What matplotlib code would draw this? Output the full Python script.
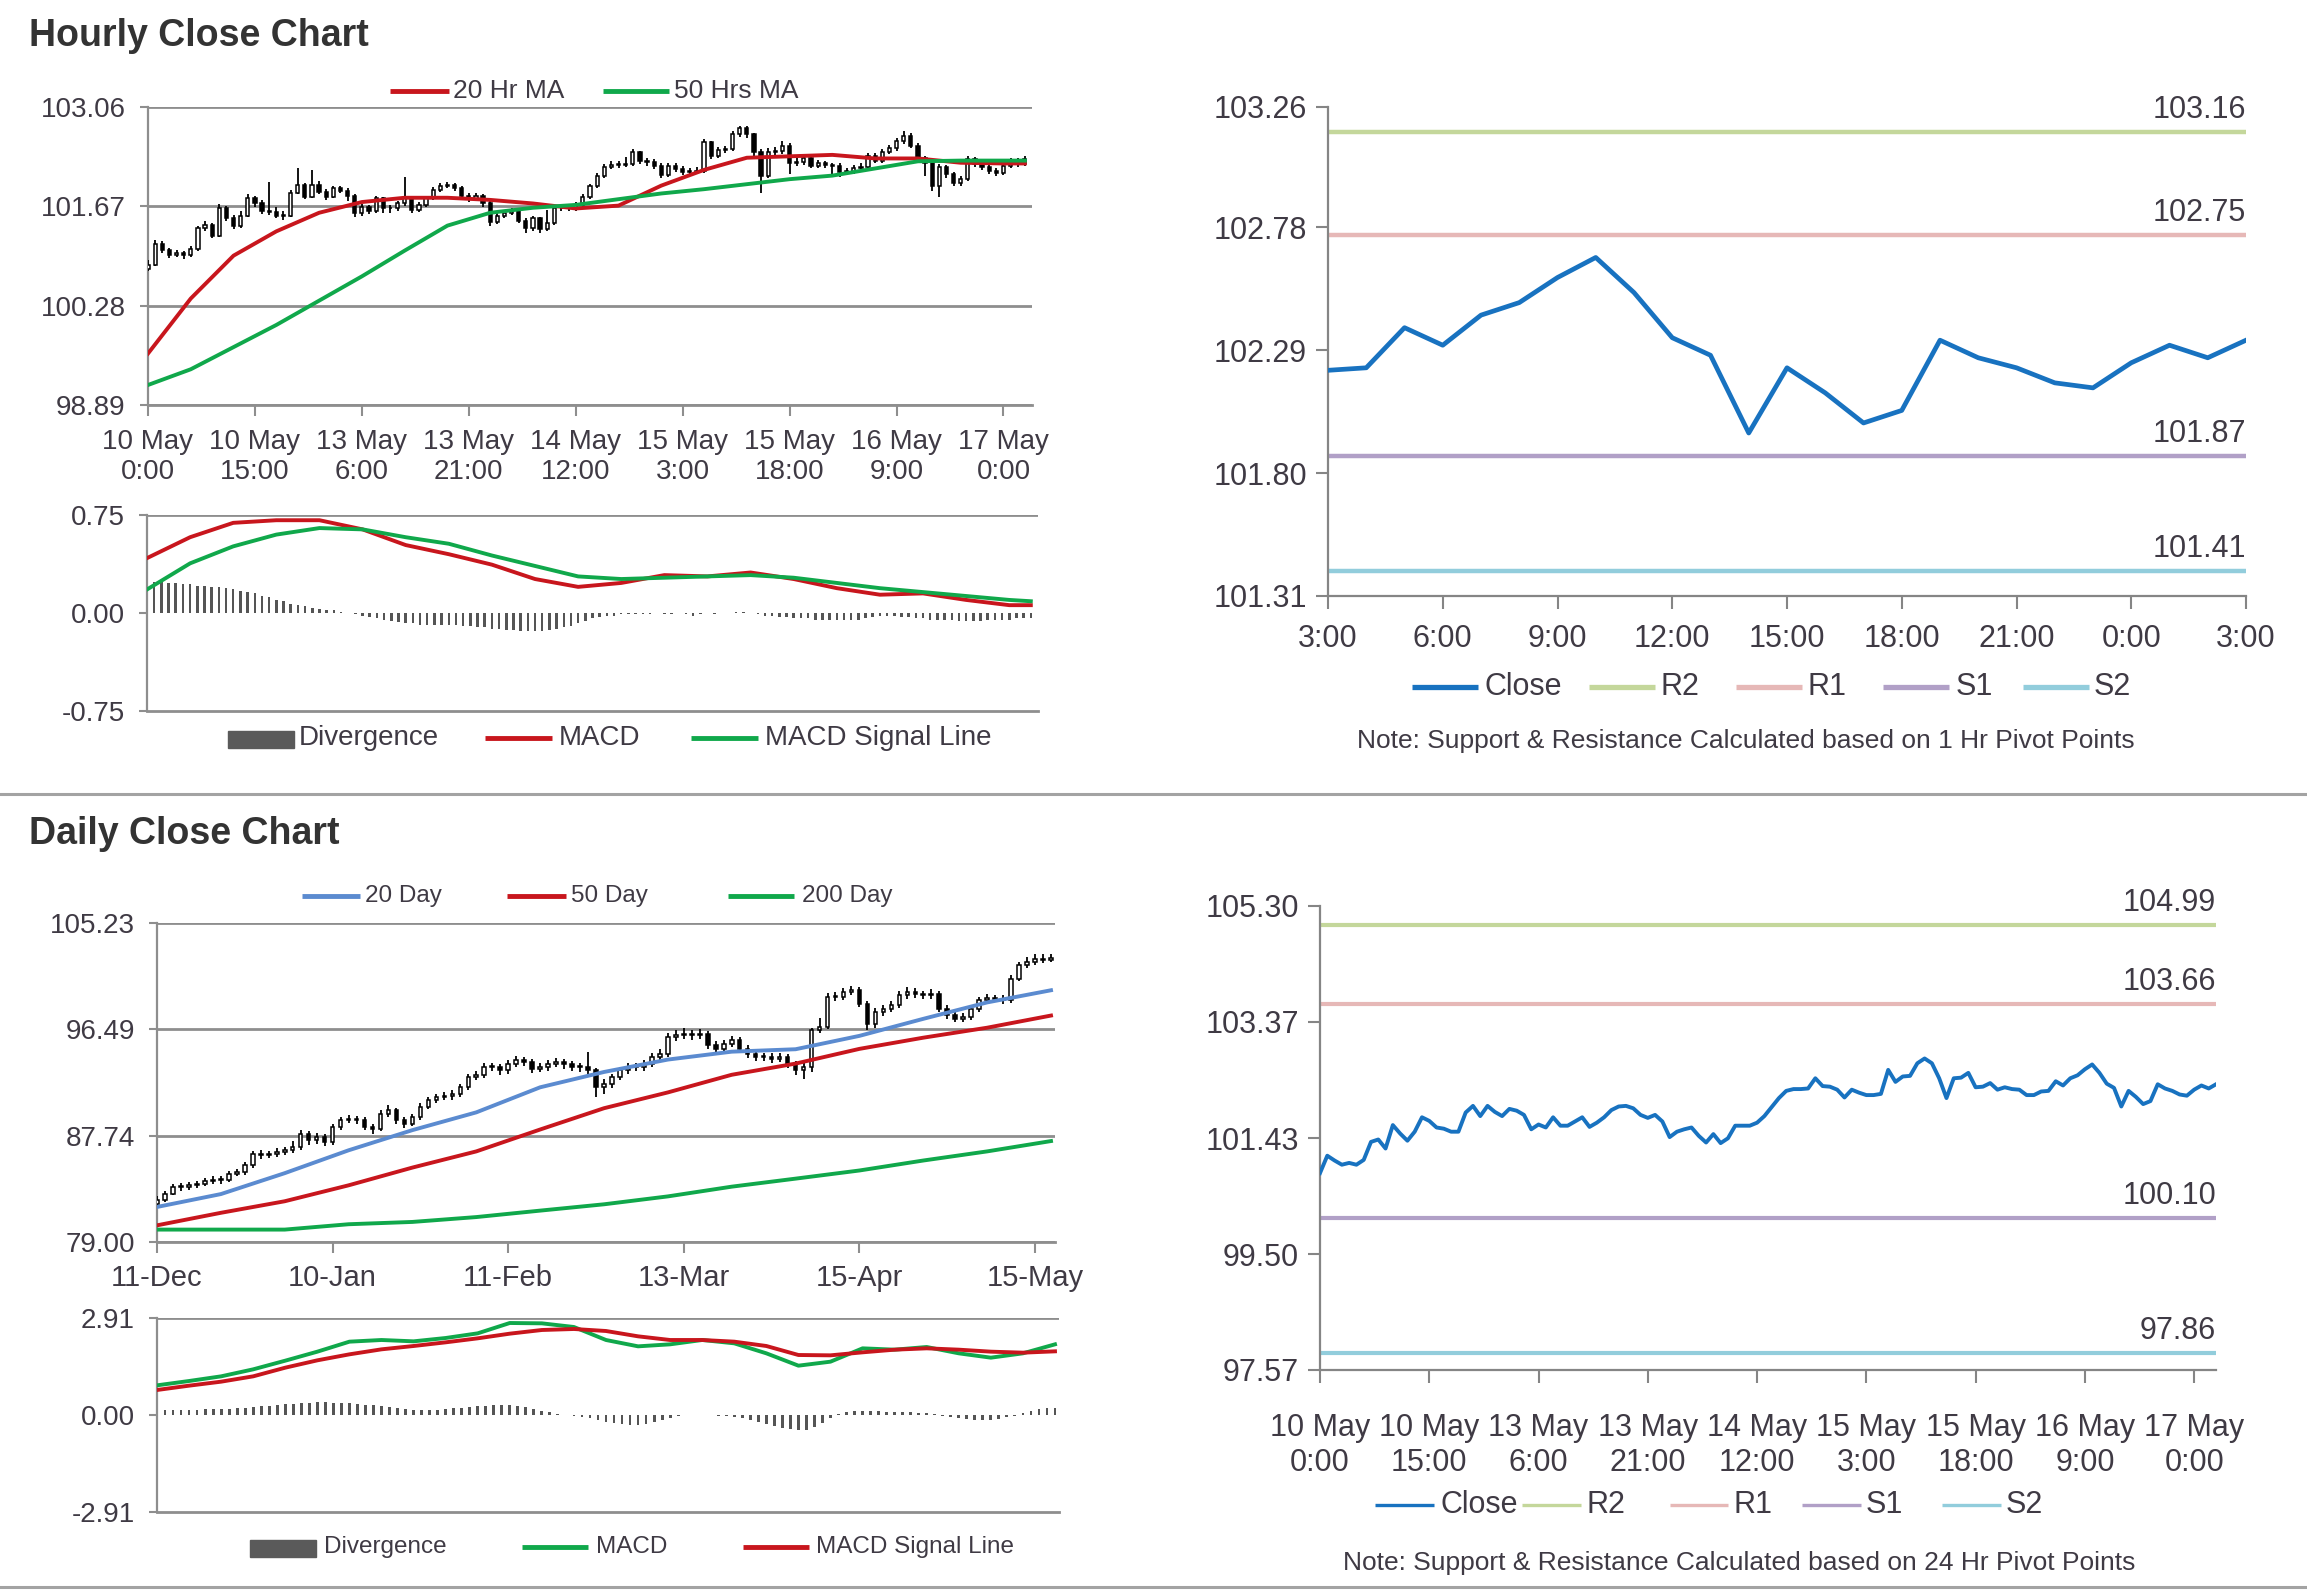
import numpy as np
import matplotlib.pyplot as plt
from matplotlib.lines import Line2D
from matplotlib.patches import Rectangle

plt.rcParams['font.family'] = ['Liberation Sans', 'DejaVu Sans']

# ---------------- hourly data (10 May 0:00 -> 17 May 3:00) ----------------
hr_first_open = 100.80
hr_close = [100.85, 101.14, 101.06, 100.99, 101.02, 100.99, 101.07, 101.37, 101.41, 101.26,
            101.65, 101.51, 101.39, 101.54, 101.78, 101.72, 101.61, 101.59, 101.54, 101.54,
            101.86, 101.97, 101.80, 101.97, 101.87, 101.80, 101.92, 101.89, 101.82, 101.58,
            101.66, 101.61, 101.78, 101.64, 101.64, 101.71, 101.78, 101.62, 101.69, 101.78,
            101.90, 101.96, 101.97, 101.93, 101.82, 101.77, 101.82, 101.71, 101.45, 101.54,
            101.58, 101.61, 101.47, 101.36, 101.50, 101.35, 101.43, 101.64, 101.64, 101.64,
            101.69, 101.80, 101.95, 102.10, 102.22, 102.25, 102.25, 102.26, 102.43, 102.30,
            102.29, 102.24, 102.11, 102.24, 102.19, 102.15, 102.15, 102.17, 102.57, 102.37,
            102.46, 102.47, 102.68, 102.76, 102.68, 102.43, 102.10, 102.43, 102.44, 102.52,
            102.28, 102.29, 102.35, 102.24, 102.28, 102.25, 102.24, 102.15, 102.15, 102.21,
            102.22, 102.38, 102.31, 102.43, 102.48, 102.58, 102.66, 102.52, 102.34, 102.27,
            101.96, 102.22, 102.12, 102.00, 102.05, 102.33, 102.26, 102.22, 102.16, 102.14,
            102.24, 102.31, 102.26, 102.33]
hr_high = [100.92, 101.20, 101.18, 101.09, 101.06, 101.05, 101.12, 101.40, 101.46, 101.44,
           101.70, 101.68, 101.55, 101.60, 101.84, 101.82, 101.76, 102.01, 101.66, 101.60,
           101.90, 102.21, 102.00, 102.18, 102.02, 101.91, 101.96, 101.95, 101.92, 101.84,
           101.70, 101.69, 101.82, 101.80, 101.69, 101.74, 102.08, 101.80, 101.73, 101.82,
           101.94, 102.00, 102.01, 101.99, 101.95, 101.85, 101.86, 101.84, 101.74, 101.58,
           101.62, 101.64, 101.63, 101.50, 101.53, 101.52, 101.62, 101.68, 101.68, 101.69,
           101.73, 101.84, 101.98, 102.14, 102.26, 102.30, 102.30, 102.36, 102.47, 102.45,
           102.34, 102.33, 102.27, 102.28, 102.27, 102.23, 102.20, 102.22, 102.61, 102.59,
           102.50, 102.52, 102.72, 102.80, 102.79, 102.70, 102.47, 102.48, 102.50, 102.58,
           102.55, 102.34, 102.39, 102.37, 102.32, 102.31, 102.28, 102.27, 102.20, 102.25,
           102.27, 102.42, 102.41, 102.47, 102.53, 102.62, 102.72, 102.69, 102.55, 102.38,
           102.30, 102.26, 102.25, 102.15, 102.09, 102.37, 102.36, 102.30, 102.25, 102.20,
           102.28, 102.35, 102.34, 102.38]
hr_low = [100.76, 100.83, 101.02, 100.95, 100.96, 100.94, 100.96, 101.05, 101.33, 101.22,
          101.24, 101.47, 101.35, 101.36, 101.52, 101.66, 101.56, 101.55, 101.50, 101.48,
          101.52, 101.84, 101.77, 101.78, 101.84, 101.76, 101.78, 101.85, 101.75, 101.52,
          101.54, 101.56, 101.58, 101.58, 101.58, 101.60, 101.68, 101.58, 101.59, 101.66,
          101.76, 101.87, 101.92, 101.89, 101.79, 101.73, 101.74, 101.66, 101.40, 101.42,
          101.50, 101.55, 101.43, 101.30, 101.33, 101.30, 101.32, 101.41, 101.60, 101.60,
          101.61, 101.66, 101.77, 101.92, 102.07, 102.19, 102.21, 102.22, 102.23, 102.26,
          102.24, 102.19, 102.06, 102.08, 102.15, 102.11, 102.10, 102.12, 102.14, 102.33,
          102.34, 102.42, 102.44, 102.64, 102.62, 102.38, 101.85, 102.07, 102.38, 102.40,
          102.12, 102.24, 102.25, 102.20, 102.20, 102.21, 102.08, 102.08, 102.11, 102.12,
          102.18, 102.19, 102.27, 102.28, 102.40, 102.45, 102.54, 102.48, 102.30, 102.10,
          101.88, 101.80, 102.06, 101.95, 101.96, 102.02, 102.22, 102.18, 102.12, 102.10,
          102.11, 102.20, 102.22, 102.23]

hr_ma_hours = [0, 6, 12, 18, 24, 30, 36, 42, 48, 54, 60, 66, 72, 78, 84, 90, 96, 102, 108, 114, 120, 123]
hr_ma20 = [99.61, 100.38, 100.98, 101.32, 101.58, 101.73, 101.79, 101.79, 101.76, 101.71, 101.64,
           101.68, 101.96, 102.18, 102.35, 102.37, 102.39, 102.34, 102.34, 102.28, 102.27, 102.27]
hr_ma50 = [99.17, 99.39, 99.70, 100.01, 100.35, 100.69, 101.05, 101.40, 101.58, 101.65, 101.69,
           101.77, 101.85, 101.91, 101.98, 102.05, 102.10, 102.20, 102.30, 102.31, 102.31, 102.31]
hr_macd = [0.42, 0.58, 0.69, 0.71, 0.71, 0.64, 0.52, 0.45, 0.37, 0.26, 0.20,
           0.23, 0.29, 0.28, 0.31, 0.26, 0.19, 0.14, 0.15, 0.10, 0.06, 0.06]
hr_signal = [0.18, 0.38, 0.51, 0.60, 0.65, 0.64, 0.58, 0.53, 0.44, 0.36, 0.28,
             0.26, 0.27, 0.28, 0.29, 0.27, 0.23, 0.19, 0.16, 0.13, 0.10, 0.09]
hr_div = [0.25, 0.24, 0.24, 0.23, 0.23, 0.22, 0.22, 0.21, 0.21, 0.20, 0.20, 0.19,
          0.18, 0.17, 0.16, 0.15, 0.13, 0.12, 0.10, 0.09, 0.07, 0.06, 0.05, 0.04,
          0.03, 0.02, 0.02, 0.01, 0.00, -0.01, -0.02, -0.03, -0.04, -0.05, -0.06, -0.07,
          -0.08, -0.08, -0.09, -0.09, -0.09, -0.09, -0.09, -0.09, -0.10, -0.10, -0.11, -0.11,
          -0.12, -0.12, -0.13, -0.13, -0.14, -0.14, -0.14, -0.14, -0.13, -0.12, -0.11, -0.10,
          -0.08, -0.06, -0.04, -0.03, -0.02, -0.02, -0.01, -0.01, -0.01, -0.01, -0.01, 0.00,
          -0.01, -0.01, 0.00, -0.01, -0.02, -0.01, 0.00, -0.01, 0.00, 0.00, 0.01, 0.01,
          0.00, -0.01, -0.02, -0.02, -0.03, -0.03, -0.04, -0.04, -0.04, -0.05, -0.05, -0.05,
          -0.05, -0.05, -0.05, -0.05, -0.04, -0.03, -0.02, -0.02, -0.02, -0.03, -0.03, -0.04,
          -0.04, -0.05, -0.05, -0.05, -0.05, -0.06, -0.06, -0.06, -0.06, -0.05, -0.05, -0.05,
          -0.05, -0.04, -0.04, -0.04]
hr_tick_labels = ['10 May\n0:00', '10 May\n15:00', '13 May\n6:00', '13 May\n21:00', '14 May\n12:00',
                  '15 May\n3:00', '15 May\n18:00', '16 May\n9:00', '17 May\n0:00']
last24_labels = ['3:00', '6:00', '9:00', '12:00', '15:00', '18:00', '21:00', '0:00', '3:00']

pivot_names = ['R2', 'R1', 'S1', 'S2']
pivot_colors = ['#c4d79b', '#e6b8b7', '#b1a0c7', '#92cddc']
hr_pivots = [103.16, 102.75, 101.87, 101.41]
dy_pivots = [104.99, 103.66, 100.10, 97.86]

# ---------------- daily data (11 Dec -> 17 May) ----------------
dy_first_open = 82.10
dy_close = [82.43, 82.98, 83.53, 83.53, 83.66, 83.80, 84.02, 84.13, 84.07, 84.62,
            84.76, 85.31, 86.27, 86.13, 86.21, 86.40, 86.54, 86.81, 87.91, 87.36,
            87.64, 87.22, 88.46, 89.01, 89.06, 89.01, 88.46, 88.32, 89.56, 89.83,
            89.01, 88.74, 89.28, 90.11, 90.65, 90.93, 90.98, 91.20, 91.75, 92.57,
            92.71, 93.39, 93.39, 93.12, 93.67, 93.94, 93.80, 93.26, 93.39, 93.67,
            93.80, 93.61, 93.39, 93.39, 93.12, 91.75, 92.02, 92.57, 93.12, 93.39,
            93.39, 93.67, 94.21, 94.49, 95.86, 95.99, 96.13, 95.99, 96.13, 95.17,
            94.90, 95.31, 95.58, 94.90, 94.49, 94.21, 94.21, 94.08, 94.21, 93.67,
            93.12, 93.39, 96.41, 96.68, 99.15, 99.15, 99.56, 99.70, 98.60, 96.90,
            97.91, 98.19, 98.46, 99.28, 99.56, 99.37, 99.28, 99.42, 98.19, 97.64,
            97.37, 97.50, 98.19, 98.87, 99.09, 99.01, 98.87, 100.65, 101.75, 102.02,
            102.30, 102.22, 102.36]
dy_high = [82.80, 83.20, 83.75, 83.85, 83.95, 84.05, 84.30, 84.40, 84.40, 84.85,
           85.00, 85.60, 86.50, 86.55, 86.50, 86.70, 86.85, 87.30, 88.20, 88.15,
           87.95, 87.90, 88.70, 89.30, 89.45, 89.40, 89.25, 88.70, 89.85, 90.25,
           90.05, 89.30, 89.55, 90.40, 90.90, 91.20, 91.30, 91.50, 92.00, 92.85,
           93.05, 93.70, 93.75, 93.60, 93.95, 94.30, 94.25, 94.05, 93.75, 94.00,
           94.10, 94.05, 93.90, 93.70, 94.60, 93.30, 92.40, 92.85, 93.40, 93.70,
           93.75, 94.00, 94.50, 94.85, 96.20, 96.40, 96.60, 96.45, 96.50, 96.35,
           95.50, 95.65, 95.95, 95.85, 95.20, 94.80, 94.55, 94.50, 94.55, 94.45,
           93.90, 93.70, 96.60, 97.40, 99.45, 99.55, 99.90, 100.05, 99.95, 98.80,
           98.20, 98.50, 98.80, 99.60, 99.95, 99.85, 99.65, 99.80, 99.60, 98.45,
           97.95, 97.85, 98.50, 99.15, 99.40, 99.35, 99.30, 100.95, 102.05, 102.45,
           102.70, 102.65, 102.70]
dy_low = [81.90, 82.30, 82.85, 83.20, 83.30, 83.45, 83.60, 83.80, 83.75, 83.90,
          84.40, 84.55, 85.10, 85.80, 85.90, 85.95, 86.15, 86.30, 86.60, 87.00,
          87.05, 86.90, 87.00, 88.20, 88.75, 88.70, 88.20, 87.90, 88.10, 89.30,
          88.70, 88.40, 88.50, 89.05, 89.90, 90.40, 90.65, 90.70, 90.95, 91.50,
          92.30, 92.45, 93.05, 92.70, 92.85, 93.40, 93.45, 92.90, 92.95, 93.10,
          93.40, 93.25, 93.05, 93.00, 92.70, 90.90, 91.20, 91.70, 92.30, 92.85,
          93.05, 93.10, 93.40, 93.95, 94.25, 95.55, 95.70, 95.65, 95.70, 94.85,
          94.60, 94.65, 95.05, 94.55, 94.15, 93.90, 93.90, 93.75, 93.80, 93.30,
          92.70, 92.40, 92.95, 96.20, 96.50, 98.85, 98.90, 99.30, 98.30, 96.40,
          96.60, 97.60, 97.90, 98.20, 99.00, 99.05, 98.95, 99.00, 97.90, 97.30,
          97.05, 97.10, 97.25, 97.95, 98.65, 98.70, 98.60, 98.65, 100.45, 101.50,
          101.80, 101.95, 102.00]

dy_ma_days = [0, 8, 16, 24, 32, 40, 48, 56, 64, 72, 80, 88, 96, 104, 112]
dy_ma20 = [81.88, 82.94, 84.66, 86.54, 88.20, 89.66, 91.72, 92.98, 94.00, 94.65, 94.85, 95.95, 97.35, 98.70, 99.70]
dy_ma50 = [80.37, 81.40, 82.35, 83.66, 85.12, 86.45, 88.25, 90.00, 91.30, 92.75, 93.67, 94.88, 95.80, 96.62, 97.62]
dy_ma200 = [80.02, 80.02, 80.02, 80.46, 80.65, 81.05, 81.58, 82.10, 82.75, 83.55, 84.21, 84.88, 85.70, 86.45, 87.30]

dy_macd_days = list(range(0, 113, 4))
dy_macd = [0.89, 1.02, 1.16, 1.37, 1.63, 1.90, 2.20, 2.25, 2.21, 2.31, 2.45, 2.76, 2.75, 2.64, 2.25,
           2.06, 2.12, 2.25, 2.15, 1.85, 1.48, 1.60, 2.00, 1.96, 2.04, 1.85, 1.72, 1.85, 2.12]
dy_signal = [0.75, 0.88, 1.00, 1.16, 1.42, 1.64, 1.82, 1.97, 2.07, 2.18, 2.30, 2.44, 2.55, 2.58, 2.52,
             2.36, 2.25, 2.25, 2.20, 2.07, 1.80, 1.79, 1.88, 1.96, 2.00, 1.96, 1.90, 1.87, 1.91]
dy_div = [0.14, 0.14, 0.15, 0.15, 0.16, 0.16, 0.17, 0.17, 0.18, 0.19,
          0.20, 0.22, 0.24, 0.26, 0.28, 0.30, 0.32, 0.34, 0.36, 0.37,
          0.38, 0.38, 0.37, 0.36, 0.35, 0.33, 0.31, 0.29, 0.27, 0.24,
          0.20, 0.17, 0.15, 0.14, 0.14, 0.15, 0.17, 0.20, 0.22, 0.24,
          0.26, 0.28, 0.30, 0.31, 0.30, 0.27, 0.23, 0.18, 0.12, 0.08,
          0.04, 0.01, -0.02, -0.06, -0.10, -0.15, -0.20, -0.25, -0.28, -0.30,
          -0.30, -0.27, -0.22, -0.15, -0.08, -0.04, -0.01, 0.00, 0.01, 0.00,
          -0.02, -0.04, -0.07, -0.10, -0.15, -0.21, -0.27, -0.33, -0.39, -0.43,
          -0.46, -0.44, -0.36, -0.24, -0.10, 0.03, 0.09, 0.12, 0.13, 0.12,
          0.11, 0.10, 0.09, 0.08, 0.08, 0.07, 0.05, 0.02, -0.02, -0.06,
          -0.10, -0.13, -0.15, -0.16, -0.14, -0.11, -0.07, -0.02, 0.05, 0.12,
          0.17, 0.20, 0.21]
dy_tick_labels = ['11-Dec', '10-Jan', '11-Feb', '13-Mar', '15-Apr', '15-May']

# ---------------- figure ----------------
W, H = 2307, 1592
fig = plt.figure(figsize=(W / 100, H / 100), dpi=100)

TXT = '#3f3a44'
GRID = '#8e8e8e'
RED = '#c8161d'
GREEN = '#10a84b'
BLUE = '#5b8bd0'
CLOSE = '#1872c0'
DIVC = '#555555'


def box(l, t, r, b):
    return fig.add_axes([l / W, 1 - b / H, (r - l) / W, (b - t) / H])


def fig_line(x0, x1, y, color, lw):
    fig.add_artist(Line2D([x0 / W, x1 / W], [1 - y / H, 1 - y / H], color=color, lw=lw,
                          transform=fig.transFigure, solid_capstyle='butt'))


def fig_text(x, y, s, size=16, **kw):
    fig.text(x / W, 1 - y / H, s, fontsize=size, color=TXT, va='center', **kw)


def fig_rect(x0, x1, y, h, color):
    fig.add_artist(Rectangle((x0 / W, 1 - (y + h / 2) / H), (x1 - x0) / W, h / H,
                             color=color, transform=fig.transFigure))


def candles(ax, o, h, l, c, width, tiny):
    o, h, l, c = map(np.asarray, (o, h, l, c))
    x = np.arange(len(c))
    ax.vlines(x, l, h, color='black', lw=1.3, zorder=3)
    up = c >= o
    body = np.maximum(np.abs(c - o), tiny)
    ax.bar(x, body, bottom=np.minimum(o, c), width=width, color=np.where(up, 'white', 'black'),
           edgecolor='black', lw=1.1, zorder=3)


def left_panel(ax, yticks, fs, grid_all=True):
    ax.set_ylim(yticks[0], yticks[-1])
    ax.set_yticks(yticks)
    ax.set_yticklabels(['%.2f' % v for v in yticks])
    for s in ['top', 'right']:
        ax.spines[s].set_visible(False)
    ax.spines['left'].set_color(GRID)
    ax.spines['left'].set_linewidth(1.6)
    ax.spines['bottom'].set_color(GRID)
    ax.spines['bottom'].set_linewidth(2)
    if grid_all:
        ax.yaxis.grid(True, color=GRID, lw=2)
    else:
        ax.axhline(yticks[-1], color=GRID, lw=2, zorder=0)
    ax.set_axisbelow(True)
    ax.tick_params(axis='y', colors=GRID, labelcolor=TXT, labelsize=fs, length=6, width=1.5, pad=10)
    ax.tick_params(axis='x', colors=GRID, labelcolor=TXT, labelsize=fs, length=8, width=1.5,
                   direction='out', pad=9)


def right_panel(ax, yticks, fs):
    ax.set_ylim(yticks[0], yticks[-1])
    ax.set_yticks(yticks)
    ax.set_yticklabels(['%.2f' % v for v in yticks])
    for s in ['top', 'right']:
        ax.spines[s].set_visible(False)
    for s in ['left', 'bottom']:
        ax.spines[s].set_color('#858585')
        ax.spines[s].set_linewidth(1.6)
    ax.tick_params(colors='#858585', labelcolor=TXT, labelsize=fs, length=9, width=1.5, pad=6)


# ======== Hourly candle chart ========
hr_x = np.arange(len(hr_close))
hr_open = [hr_first_open] + hr_close[:-1]
ax1 = box(148, 107, 1032, 405)
left_panel(ax1, [98.89, 100.28, 101.67, 103.06], 20)
ax1.set_xlim(0, 124)
ax1.set_xticks(range(0, 121, 15))
ax1.set_xticklabels(hr_tick_labels, linespacing=1.2)
candles(ax1, hr_open, hr_high, hr_low, hr_close, 0.45, 0.01)
ax1.plot(hr_ma_hours, hr_ma20, color=RED, lw=2.8, zorder=4)
ax1.plot(hr_ma_hours, hr_ma50, color=GREEN, lw=2.8, zorder=4)

fig_line(390, 449, 91, RED, 3.5)
fig_text(453, 91, '20 Hr MA', size=19)
fig_line(603, 669, 91, GREEN, 3.5)
fig_text(674, 91, '50 Hrs MA', size=19)

# hourly MACD
ax2 = box(147, 515, 1038, 711)
left_panel(ax2, [-0.75, 0.00, 0.75], 20, grid_all=False)
ax2.set_xlim(0, 124)
ax2.set_xticks([])
ax2.bar(hr_x, hr_div, width=0.35, color=DIVC, zorder=2)
ax2.plot(hr_ma_hours, hr_macd, color=RED, lw=2.8, zorder=3)
ax2.plot(hr_ma_hours, hr_signal, color=GREEN, lw=2.8, zorder=3)

fig_rect(228, 294, 739, 17, '#5a5a5a')
fig_text(299, 738, 'Divergence', size=20)
fig_line(485, 552, 738, RED, 3.5)
fig_text(559, 738, 'MACD', size=20)
fig_line(691, 758, 738, GREEN, 3.5)
fig_text(765, 738, 'MACD Signal Line', size=20)

# ======== last 24 hours with hourly pivots ========
last24 = hr_close[-25:]
ax3 = box(1328, 107, 2246, 596)
right_panel(ax3, [101.31, 101.80, 102.29, 102.78, 103.26], 22)
ax3.tick_params(axis='x', pad=11)
ax3.set_xlim(0, 24)
ax3.set_xticks(range(0, 25, 3))
ax3.set_xticklabels(last24_labels)
for name, val, col in zip(pivot_names, hr_pivots, pivot_colors):
    ax3.axhline(val, color=col, lw=3.2, zorder=2)
    ax3.annotate('%.2f' % val, (1, val), xycoords=('axes fraction', 'data'), xytext=(0, 5),
                 textcoords='offset points', ha='right', va='bottom', fontsize=22, color=TXT)
ax3.plot(range(25), last24, color=CLOSE, lw=3.4, zorder=3)

leg_y = 687
fig_line(1412, 1478, leg_y, CLOSE, 3.8)
fig_text(1484, leg_y, 'Close', size=22)
for (x0, x1, xt), name, col in zip([(1589, 1655, 1661), (1736, 1802, 1807), (1883, 1949, 1956), (2023, 2089, 2094)],
                                   pivot_names, pivot_colors):
    fig_line(x0, x1, leg_y, col, 3.8)
    fig_text(xt, leg_y, name, size=22)
fig_text(1746, 741, 'Note: Support & Resistance Calculated based on 1 Hr Pivot Points', size=19, ha='center')

fig.add_artist(Line2D([0, 1], [1 - 794 / H] * 2, color='#a3a3a3', lw=2.2, transform=fig.transFigure))

# ======== Daily candle chart ========
dy_x = np.arange(len(dy_close))
dy_open = [dy_first_open] + dy_close[:-1]
ax4 = box(157, 923, 1055, 1242)
left_panel(ax4, [79.00, 87.74, 96.49, 105.23], 20)
ax4.set_xlim(0, 112.5)
ax4.set_xticks(range(0, 111, 22))
ax4.set_xticklabels(dy_tick_labels)
ax4.tick_params(axis='x', labelsize=21, pad=8)
candles(ax4, dy_open, dy_high, dy_low, dy_close, 0.45, 0.08)
ax4.plot(dy_ma_days, dy_ma20, color=BLUE, lw=2.8, zorder=4)
ax4.plot(dy_ma_days, dy_ma50, color=RED, lw=2.8, zorder=4)
ax4.plot(dy_ma_days, dy_ma200, color=GREEN, lw=2.8, zorder=4)

fig_line(302, 360, 896, BLUE, 3.5)
fig_text(365, 896, '20 Day', size=17.5)
fig_line(507, 566, 896, RED, 3.5)
fig_text(571, 896, '50 Day', size=17.5)
fig_line(728, 794, 896, GREEN, 3.5)
fig_text(802, 896, '200 Day', size=17.5)

# daily MACD
ax5 = box(157, 1318, 1059, 1512)
left_panel(ax5, [-2.91, 0.00, 2.91], 20, grid_all=False)
ax5.set_xlim(0, 112.5)
ax5.set_xticks([])
ax5.bar(dy_x, dy_div, width=0.35, color=DIVC, zorder=2)
ax5.plot(dy_macd_days, dy_macd, color=GREEN, lw=2.8, zorder=3)
ax5.plot(dy_macd_days, dy_signal, color=RED, lw=2.8, zorder=3)

fig_rect(250, 316, 1548, 17, '#5a5a5a')
fig_text(324, 1547, 'Divergence', size=17.5)
fig_line(522, 588, 1547, GREEN, 3.5)
fig_text(596, 1547, 'MACD', size=17.5)
fig_line(743, 809, 1547, RED, 3.5)
fig_text(816, 1547, 'MACD Signal Line', size=17.5)

# ======== hourly closes with daily pivots ========
ax6 = box(1320, 906, 2216, 1370)
right_panel(ax6, [97.57, 99.50, 101.43, 103.37, 105.30], 22)
ax6.tick_params(axis='x', pad=22)
ax6.set_xlim(0, 123)
ax6.set_xticks(range(0, 121, 15))
ax6.set_xticklabels(hr_tick_labels, linespacing=1.2)
for name, val, col in zip(pivot_names, dy_pivots, pivot_colors):
    ax6.axhline(val, color=col, lw=3.0, zorder=2)
    ax6.annotate('%.2f' % val, (1, val), xycoords=('axes fraction', 'data'), xytext=(0, 5),
                 textcoords='offset points', ha='right', va='bottom', fontsize=22, color=TXT)
ax6.plot(hr_x, hr_close, color=CLOSE, lw=2.8, zorder=3)

leg_y = 1505
fig_line(1375, 1434, leg_y, CLOSE, 2.4)
fig_text(1440, leg_y, 'Close', size=22)
for (x0, x1, xt), name, col in zip([(1522, 1581, 1586), (1670, 1728, 1733), (1802, 1861, 1866), (1942, 2001, 2006)],
                                   pivot_names, pivot_colors):
    fig_line(x0, x1, leg_y, col, 2.4)
    fig_text(xt, leg_y, name, size=22)
fig_text(1739, 1563, 'Note: Support & Resistance Calculated based on 24 Hr Pivot Points', size=19, ha='center')

fig.add_artist(Line2D([0, 1], [1 - 1587 / H] * 2, color='#a3a3a3', lw=2.2, transform=fig.transFigure))

# section titles
fig.text(29 / W, 1 - 36 / H, 'Hourly Close Chart', fontsize=27, fontweight='bold', color='#333333', va='center')
fig.text(29 / W, 1 - 834 / H, 'Daily Close Chart', fontsize=27, fontweight='bold', color='#333333', va='center')

fig.savefig('out.png', dpi=100, facecolor='white')
